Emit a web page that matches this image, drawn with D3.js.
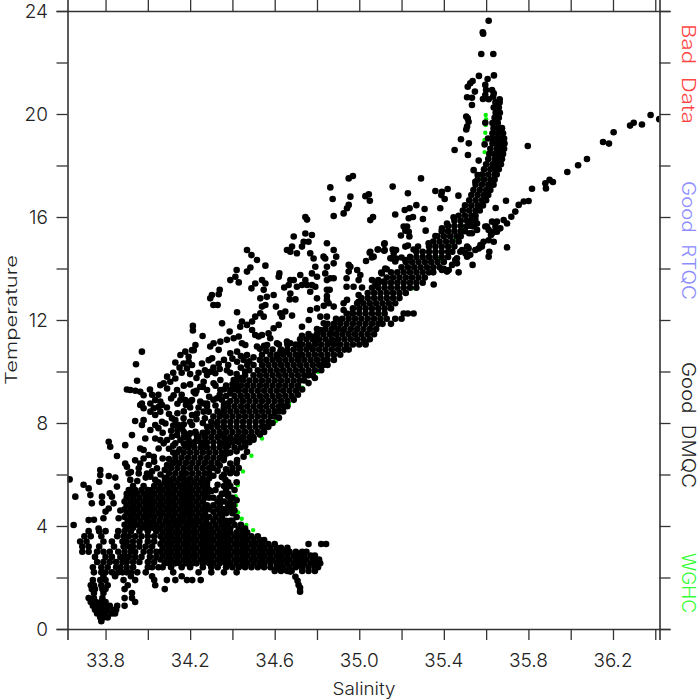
<!DOCTYPE html>
<html><head><meta charset="utf-8">
<script src="https://cdn.jsdelivr.net/npm/d3@7"></script>
<style>html,body{margin:0;background:#fff}svg{display:block}text{font-family:Inter,"Open Sans",sans-serif;font-weight:300;fill:#222}</style>
</head><body><svg id="c" width="700" height="700"></svg>
<script>
const salDomain=[33.62,36.42], tempDomain=[0,24];
const salTicks=[33.8,34,34.2,34.4,34.6,34.8,35,35.2,35.4,35.6,35.8,36,36.2,36.4];
const salLabels=[33.8,34.2,34.6,35.0,35.4,35.8,36.2];
const tempTicks=[0,2,4,6,8,10,12,14,16,18,20,22,24];
const tempLabels=[0,4,8,12,16,20,24];
const legend=["Bad  Data","Good  RTQC","Good  DMQC","WGHC"];
const legendColors=["#ff4444","#8c8cff","#222222","#33ff33"];

// WGHC climatology [salinity, temperature]
const wghc=[[34.635,3.13],[34.595,3.26],[34.55,3.46],[34.498,3.84],[34.466,4.04],[34.444,4.28],[34.427,4.53],[34.417,4.81],[34.415,5.16],[34.425,5.58],[34.45,6.12],[34.49,6.73],[34.54,7.4],[34.606,8.08],[34.668,8.75],[34.732,9.37],[34.805,9.99],[34.882,10.57],[35.115,12.23],[35.25,13.23],[35.305,13.64],[35.328,13.88],[35.38,14.37],[35.428,14.87],[35.454,15.13],[35.475,15.39],[35.494,15.62],[35.576,17.5],[35.593,18.52],[35.592,18.99],[35.596,19.27],[35.598,19.57],[35.6,19.8],[35.598,19.96]];

// Rows: [temperature, salinity, salinity, ...]
const coldRows=[
[0.3,33.78],[0.45,33.775,33.79,33.81],[0.6,33.76,33.78,33.8,33.83,33.845],[0.75,33.75,33.77,33.79,33.81,33.84,33.85],
[0.9,33.74,33.76,33.78,33.8,33.82,33.855,33.89],[1.05,33.73,33.755,33.78,33.8,33.94],[1.2,33.72,33.745,33.785,33.89,33.925],
[1.4,33.745,33.79,33.925],[1.55,33.735,33.75,33.785,33.8,33.89,34.08],[1.7,33.73,33.745,33.78,33.81,33.905,34.035],
[1.9,33.74,33.775,33.8,33.885,33.94,34.03,34.09,34.13,34.185,34.21,34.25],[2.05,33.79,33.845,33.92,34.02,34.16],
[2.2,33.745,33.78,33.8,33.83,33.86,33.88,33.9,33.92,33.95,33.99,34.12,34.24,34.3,34.36,34.42],
[2.4,33.74,33.78,33.81,33.85,33.87,33.9,33.93,34,34.02,34.05],
[2.6,33.76,33.79,33.82,33.85,33.88,33.9,33.93,33.96,34,34.03],
[2.8,33.75,33.8,33.83,33.87,33.89,33.91,33.94,33.97,34.01,34.04],
[3,33.69,33.72,33.76,33.79,33.82,33.86,33.89,33.92,33.94,33.98,34.01,34.04],
[3.2,33.69,33.72,33.77,33.84,33.885,33.91,33.93,33.96,33.99,34.02],
[3.4,33.68,33.71,33.79,33.83,33.88,33.9,33.93,33.96,34,34.03],
[3.6,33.7,33.73,33.78,33.855,33.885,33.91,33.94,33.97,34,34.03],
[3.8,33.72,33.77,33.8,33.86,33.89,33.92,33.96,34,34.04],
[3.93,33.9,33.93,33.97,33.99,34.02,34.05]];

const barRows=[
[2.25,34.6,34.63,34.66,34.68,34.73,34.76,34.79],
[2.4,34.07,34.11,34.16,34.2,34.26,34.3,34.33,34.37,34.4,34.43,34.46,34.49,34.52,34.55,34.58,34.61,34.64,34.67,34.7,34.73,34.76,34.79,34.805],
[2.55,34.08,34.1,34.13,34.15,34.18,34.21,34.23,34.26,34.29,34.31,34.34,34.37,34.39,34.42,34.45,34.47,34.5,34.53,34.55,34.58,34.61,34.63,34.66,34.69,34.71,34.74,34.77,34.79,34.815],
[2.7,34.06,34.09,34.11,34.14,34.17,34.19,34.22,34.25,34.27,34.3,34.33,34.35,34.38,34.41,34.43,34.46,34.49,34.51,34.54,34.57,34.59,34.62,34.65,34.67,34.7,34.73,34.75,34.78,34.81],
[2.85,34.07,34.1,34.13,34.15,34.18,34.21,34.23,34.26,34.29,34.31,34.34,34.37,34.39,34.42,34.45,34.47,34.5,34.53,34.55,34.58,34.61,34.63,34.66,34.69,34.71,34.74,34.77,34.79],
[3,34.06,34.09,34.11,34.14,34.17,34.19,34.22,34.25,34.27,34.3,34.33,34.35,34.38,34.41,34.43,34.46,34.49,34.51,34.54,34.57,34.59,34.62,34.65,34.67,34.7,34.73,34.75],
[3.15,34.07,34.1,34.13,34.15,34.18,34.21,34.23,34.26,34.29,34.31,34.34,34.37,34.39,34.42,34.45,34.47,34.5,34.53,34.55,34.58,34.61,34.63,34.66],
[3.3,34.06,34.09,34.11,34.14,34.17,34.19,34.22,34.25,34.27,34.3,34.33,34.35,34.38,34.41,34.43,34.46,34.49,34.51,34.54,34.57,34.6,34.76,34.82,34.843],
[3.45,34.07,34.1,34.13,34.15,34.18,34.21,34.23,34.26,34.29,34.31,34.34,34.37,34.39,34.42,34.45,34.47,34.5,34.53,34.55],
[3.6,34.06,34.09,34.11,34.14,34.17,34.19,34.22,34.25,34.27,34.3,34.33,34.35,34.38,34.41,34.43,34.46,34.49,34.52],
[3.75,34.07,34.1,34.13,34.15,34.18,34.21,34.23,34.26,34.29,34.31,34.34,34.37,34.39,34.42,34.45,34.47],
[3.9,34.06,34.09,34.11,34.14,34.17,34.19,34.22,34.25,34.27,34.3,34.33,34.36,34.39,34.43,34.46]];

const blobRows=[
[4.05,33.89,33.92,33.95,33.98,34.01,34.04,34.07,34.1,34.13,34.15,34.18,34.21,34.23,34.26,34.29,34.32,34.35,34.38,34.41,34.44],
[4.2,33.905,33.935,33.965,33.995,34.025,34.055,34.085,34.115,34.14,34.165,34.195,34.22,34.245,34.275,34.31,34.34,34.37,34.39],
[4.35,33.89,33.92,33.95,33.98,34,34.03,34.06,34.09,34.12,34.15,34.17,34.2,34.23,34.26,34.28,34.32,34.35,34.42],
[4.5,33.9,33.93,33.96,33.99,34.02,34.05,34.07,34.1,34.13,34.16,34.18,34.21,34.24,34.27,34.34,34.37,34.4],
[4.65,33.89,33.92,33.95,33.98,34,34.03,34.06,34.09,34.12,34.15,34.17,34.2,34.23,34.26,34.29,34.33,34.36,34.39],
[4.8,33.9,33.93,33.96,33.99,34.02,34.05,34.07,34.1,34.13,34.16,34.18,34.21,34.24,34.27,34.28,34.31,34.34,34.38,34.405],
[4.95,33.89,33.92,33.95,33.98,34,34.03,34.06,34.09,34.12,34.15,34.17,34.2,34.23,34.26,34.33,34.36,34.39],
[5.1,33.9,33.93,33.96,33.99,34.02,34.05,34.07,34.1,34.13,34.16,34.18,34.21,34.24,34.27,34.29,34.31,34.34,34.4],
[5.25,33.9,33.92,33.95,33.98,34,34.03,34.06,34.09,34.12,34.15,34.17,34.2,34.23,34.26,34.28,34.36,34.38],
[5.4,33.91,33.94,33.97,34,34.02,34.05,34.07,34.1,34.13,34.16,34.18,34.21,34.24,34.27,34.29,34.32,34.41],
[5.55,33.93,33.98,34.03,34.06,34.09,34.12,34.15,34.17,34.2,34.23,34.26,34.28,34.36,34.39]];

const coreRows=[
[5.7,34.05,34.08,34.11,34.14,34.17,34.19,34.22,34.25,34.28,34.38,34.42],
[5.85,34.09,34.12,34.15,34.17,34.2,34.23,34.26,34.29],
[6.05,34.1,34.13,34.16,34.18,34.21,34.24,34.27,34.29,34.39,34.42],
[6.25,34.11,34.14,34.17,34.2,34.23,34.26,34.29,34.31,34.4,34.43],
[6.45,34.12,34.15,34.18,34.21,34.24,34.27,34.3,34.33,34.42],
[6.65,34.13,34.16,34.19,34.22,34.25,34.28,34.31,34.34,34.36],
[6.85,34.14,34.17,34.2,34.23,34.26,34.29,34.32,34.35,34.37],
[7.05,34.19,34.22,34.25,34.28,34.31,34.34,34.37,34.44],
[7.25,34.22,34.25,34.28,34.31,34.34,34.4,34.43,34.46],
[7.45,34.24,34.27,34.3,34.33,34.36,34.39,34.42,34.45,34.48,34.5],
[7.65,34.28,34.31,34.34,34.37,34.4,34.43,34.46,34.49,34.52],
[7.85,34.3,34.33,34.36,34.39,34.42,34.45,34.48,34.51,34.54,34.56],
[8.05,34.3,34.33,34.36,34.39,34.42,34.45,34.48,34.51,34.54,34.57],
[8.25,34.31,34.34,34.37,34.4,34.43,34.46,34.49,34.52,34.55,34.58,34.6],
[8.45,34.33,34.36,34.39,34.42,34.45,34.48,34.51,34.54,34.57,34.6,34.62],
[8.65,34.38,34.41,34.44,34.47,34.5,34.53,34.56,34.59,34.62,34.645],
[8.85,34.39,34.42,34.45,34.48,34.51,34.54,34.57,34.6,34.63,34.66],
[9.05,34.41,34.44,34.47,34.5,34.53,34.56,34.59,34.62,34.65,34.68],
[9.25,34.43,34.46,34.49,34.52,34.55,34.58,34.61,34.64,34.67,34.7],
[9.45,34.44,34.47,34.5,34.53,34.56,34.59,34.62,34.65,34.68,34.71],
[9.65,34.45,34.48,34.51,34.54,34.57,34.6,34.63,34.66,34.69,34.72,34.74],
[9.85,34.46,34.5,34.53,34.56,34.59,34.62,34.65,34.68,34.71,34.74,34.76,34.78],
[10.05,34.48,34.52,34.55,34.58,34.61,34.64,34.67,34.7,34.73,34.76,34.79],
[10.25,34.5,34.54,34.57,34.6,34.63,34.66,34.69,34.72,34.75,34.78,34.81,34.83],
[10.45,34.53,34.56,34.59,34.62,34.65,34.68,34.71,34.74,34.77,34.8,34.83,34.85],
[10.65,34.58,34.61,34.64,34.67,34.7,34.73,34.76,34.79,34.82,34.85,34.88],
[10.85,34.59,34.63,34.66,34.69,34.72,34.75,34.78,34.81,34.84,34.87,34.9,34.93],
[11.05,34.62,34.66,34.7,34.73,34.76,34.79,34.82,34.85,34.88,34.91,34.94,34.97,35,35.03],
[11.25,34.72,34.75,34.78,34.81,34.84,34.87,34.9,34.93,34.96,34.99,35.02,35.05],
[11.45,34.76,34.8,34.83,34.86,34.89,34.92,34.95,34.98,35.01,35.04,35.07],
[11.65,34.8,34.84,34.87,34.9,34.93,34.96,34.99,35.02,35.05,35.08],
[11.85,34.85,34.88,34.91,34.94,34.97,35,35.03,35.06,35.09,35.11,35.15],
[12.05,34.89,34.92,34.95,34.98,35.01,35.04,35.07,35.1,35.13,35.17,35.2],
[12.25,34.94,34.97,35,35.03,35.06,35.09,35.12,35.21,35.23,35.257],
[12.45,34.97,35,35.03,35.06,35.09,35.12,35.15],
[12.65,34.99,35.02,35.05,35.08,35.11,35.14,35.17],
[12.85,35.01,35.04,35.07,35.1,35.13,35.16,35.19],
[13.05,35.04,35.07,35.1,35.13,35.16,35.19,35.22],
[13.25,35.06,35.09,35.12,35.15,35.18,35.21,35.24,35.27],
[13.45,35.09,35.12,35.15,35.18,35.21,35.24,35.27,35.3],
[13.65,35.13,35.16,35.19,35.22,35.25,35.28,35.31],
[13.85,35.15,35.18,35.21,35.24,35.27,35.3,35.33,35.35],
[14.05,35.2,35.23,35.26,35.29,35.32,35.35,35.38],
[14.25,35.22,35.25,35.28,35.31,35.34,35.37,35.4],
[14.45,35.24,35.27,35.3,35.33,35.36,35.39,35.42],
[14.65,35.27,35.3,35.33,35.36,35.39,35.42,35.44],
[14.85,35.33,35.36,35.39,35.42,35.45],[15.05,35.35,35.38,35.41,35.44,35.47],[15.25,35.37,35.4,35.43,35.46,35.48],
[15.45,35.39,35.42,35.45,35.48,35.5],[15.65,35.42,35.45,35.48,35.51,35.53],[15.85,35.45,35.48,35.51,35.53],
[16.05,35.47,35.5,35.53,35.55],[16.25,35.49,35.52,35.55,35.57],[16.45,35.5,35.53,35.56,35.585],[16.65,35.52,35.55,35.58,35.6],
[16.85,35.53,35.56,35.59,35.61],[17.05,35.54,35.57,35.6,35.62],[17.25,35.55,35.58,35.61,35.635],[17.45,35.56,35.59,35.62,35.64],
[17.65,35.58,35.61,35.64,35.65],[17.85,35.59,35.62,35.645,35.66],[18.05,35.6,35.63,35.65,35.67],[18.25,35.61,35.64,35.66,35.675],
[18.45,35.615,35.64,35.66,35.68],[18.65,35.62,35.65,35.67,35.685],[18.85,35.63,35.655,35.675,35.687],[19.05,35.63,35.65,35.67,35.685],
[19.25,35.63,35.655,35.68],[19.45,35.635,35.66,35.675],[19.65,35.63,35.655],[19.85,35.64,35.66],[20.05,35.645,35.665],[20.25,35.636,35.66],[20.45,35.644,35.664]];

// Lone readings outside the dense rows [salinity, temperature]
const leftScatter=[[33.649,4.04],[33.72,4.23],[33.745,4.24],[33.79,4.3],[33.8,4.56],[33.767,3.9],[33.815,4.68],[33.783,5.14],[33.783,4.9],[33.735,4.88],[33.728,5.2],[33.72,5.46],[33.696,5.6],[33.657,5.14],[33.63,5.81],[33.775,6.17],[33.775,5.98],[33.77,5.72],[33.815,5.94],[33.846,5.88],[33.854,5.53],[33.82,5.27],[33.83,5.14],[33.838,4.88],[33.862,4.3],[33.87,4.6],[33.854,6.72],[33.822,7.08],[33.815,7.27],[33.893,7.14],[33.925,7.53],[33.94,8.08],[33.972,7.92],[33.944,10.28],[33.949,9.64],[33.972,10.77]];
const sparseBody=[[33.901,9.3],[33.917,9.28],[33.941,9.25],[33.964,9.21],[33.98,9.08],[33.972,8.76],[33.98,8.57],[33.964,8.7],[34.012,8.76],[34.035,8.89],[34.059,8.83],[34.067,8.7],[34.028,8.57],[34.012,8.44],[34.059,8.44],[34.035,8.31],[34.091,9.8],[34.13,9.73],[34.106,9.6],[34.075,9.54],[34.059,9.47],[34.091,9.34],[34.138,9.28],[34.122,9.08],[34.154,8.89],[34.177,8.89],[34.217,9.21],[34.225,9.15],[34.209,8.89],[34.201,8.83],[34.154,10.64],[34.177,10.77],[34.193,10.57],[34.209,10.83],[34.225,11.03],[34.217,10.83],[34.193,10.38],[34.169,10.31],[34.185,10.12],[34.209,10.25],[34.256,10.31],[34.288,10.44],[34.304,10.51],[34.296,9.99],[34.319,9.93],[34.28,9.86],[34.343,9.67],[34.374,10.05],[34.406,9.67],[34.422,9.41],[34.343,9.28],[34.39,9.28],[34.311,9.54],[34.264,9.6],[34.248,9.41],[34.28,9.28],[34.327,8.96],[34.28,8.76],[34.264,8.76],[34.248,8.83],[34.288,8.44],[34.264,8.44],[34.233,8.37],[34.209,8.31],[34.169,8.18],[34.13,8.11],[34.114,8.18],[34.083,7.98],[34.067,8.05],[34.035,7.92],[33.98,8.11],[34.012,7.73],[34.035,7.4],[34.059,7.34],[34.075,7.21],[34.114,7.47],[34.138,7.53],[34.146,7.92],[34.162,7.79],[34.209,7.92],[34.225,7.66],[34.193,7.53],[34.193,7.34],[34.233,7.4],[34.264,7.21],[34.272,7.08],[34.177,7.08],[34.154,7.34],[34.13,7.21],[34.091,7.34],[34.091,6.37],[34.043,6.24],[34.004,6.37],[33.957,6.24],[33.893,6.43],[33.901,6.3],[33.909,6.04],[33.917,5.79],[33.964,6.43],[33.957,6.04],[33.996,6.04],[34.012,5.91],[34.035,5.79],[34.091,5.79],[33.98,6.95],[34.004,6.76],[34.028,6.69],[34.051,7.01],[33.964,7.01],[33.988,7.4],[34.359,8.57],[34.374,8.76],[34.343,8.37],[34.327,7.98],[34.359,7.86],[34.343,7.53],[34.374,7.34],[34.359,7.21],[34.374,6.82],[34.39,6.43],[34.359,6.56],[34.422,6.56],[34.453,6.69],[34.469,6.88],[34.398,6.11],[34.367,5.79],[34.42,9.7],[34.39,9.95],[34.335,10.3],[34.36,10.45]];
const bodyFill=[[33.95,5.75],[33.99,5.88],[34.02,6.12],[34.06,6],[34.08,5.87],[34.08,6.18],[34.1,6.35],[34.13,6.5],[34.1,6.6],[34.07,6.62],[34.03,6.5],[33.98,6.62],[33.94,6.55],[33.92,6.1],[34.12,6.85],[34.1,7],[34.12,7.12],[34.15,6.98],[34.17,7.2],[34.2,7.18],[34.23,7.3],[34.17,7.45],[34.2,7.6],[34.23,7.55],[34.26,7.62],[34.17,7.65],[34.14,7.72],[34.11,7.7],[34.07,7.62],[34.05,7.8],[34.28,7.85],[34.26,8],[34.23,8.15],[34.27,8.18],[34.2,8.05],[34.17,7.95],[34.12,7.9],[34.1,8.35],[34.14,8.38],[34.17,8.45],[34.2,8.6],[34.24,8.6],[34.28,8.65],[34.32,8.68],[34.36,8.7],[34.35,8.9],[34.31,8.9],[34.29,9.02],[34.34,9.1],[34.37,9.05],[34.39,9.15],[34.41,9.3],[34.37,9.45],[34.4,9.5],[34.42,9.6],[34.44,9.75],[34.42,9.9],[34.46,10],[34.44,10.15],[34.47,10.25],[34.48,10.4],[34.5,10.55],[34.54,10.65],[34.56,10.8],[34.55,11],[34.53,10.88],[34.44,10.6],[34.4,10.5],[34.38,10.25],[34.34,10.1],[34.31,10.15],[34.27,10.05],[34.24,9.95],[34.2,9.9],[34.16,9.95],[34.15,10.15],[34.13,10.35],[34.12,9.95],[34.23,9.75],[34.26,9.4],[34.17,9.45],[34.2,9.5],[34.23,9.25],[34.16,9.1],[34.14,8.75],[34.11,8.95],[34.09,8.6],[34.05,8.62],[34.05,9.1],[34.01,9.3],[34.02,9.1],[34.18,8.7],[34.36,9.3],[34.32,9.45],[34.39,6.85],[34.41,7.05],[34.38,7.12],[34.42,6.9],[34.46,7.1],[34.48,7.25],[34.41,7.3],[34.44,7.4],[34.5,7.35],[34.53,7.55],[34.55,7.65],[34.57,7.85],[34.59,8],[34.62,8.2],[34.64,8.45],[34.66,8.65],[34.69,8.9],[34.71,9.1],[34.73,9.3],[34.76,9.55],[34.79,9.75],[34.82,10.05],[34.85,10.25],[34.88,10.45],[34.91,10.65],[34.95,10.85],[34.41,4.6],[34.4,4.2],[34.35,4.55],[34.38,5.15],[34.37,5.4],[34.33,5.6],[34.35,5.25],[34.3,5.35],[34.31,4.55],[34.29,4.35],[34.42,5],[34.34,4.95],[34.31,5.95],[34.33,6.15],[34.35,5.9],[34.34,6.35],[34.37,6.2],[34.36,6]];
const midScatter=[[34.213,11.77],[34.213,11.59],[34.259,11.38],[34.351,11.87],[34.422,12.3],[34.387,11.55],[34.311,11.1],[34.343,11.16],[34.374,11.23],[34.406,11.29],[34.43,11.36],[34.295,10.97],[34.335,10.84],[34.39,10.71],[34.422,10.77],[34.445,11.1],[34.461,11.03],[34.437,11.74],[34.445,11.94],[34.469,11.81],[34.493,11.94],[34.508,12.13],[34.493,11.61],[34.508,11.42],[34.524,11.36],[34.54,11.42],[34.571,11.48],[34.595,11.68],[34.579,11.29],[34.619,11.81],[34.627,12.26],[34.65,12.33],[34.682,12.17],[34.635,12.13],[34.532,12.26],[34.548,12.13],[34.54,12.52],[34.453,10.45],[34.422,10.38],[34.469,10.64],[34.516,10.97],[34.564,11.03],[34.611,11.1],[34.658,11.16],[34.674,11.1],[34.713,11.03],[34.729,11.74],[34.729,11.39],[34.761,12],[34.768,12.39],[34.8,12.45],[34.832,12.55],[34.855,12.65],[34.879,12.52],[34.926,12.65],[34.942,12.78],[34.997,12.97],[34.997,12.71],[34.8,12.84],[34.847,12.78],[34.816,12.13],[34.847,12.13],[34.832,11.87],[34.816,11.61],[34.776,11.36],[34.863,11.48],[34.879,11.74],[34.926,12.39],[34.966,12.26],[34.91,12],[34.926,11.61],[34.895,11.1],[34.855,11.1],[34.8,11.23],[34.761,10.97],[34.721,10.64],[34.658,10.77],[34.627,10.77],[34.611,10.58],[35.029,11.12]];
const upperScatter=[[34.303,12.97],[34.295,12.84],[34.34,13.17],[34.335,13],[34.31,12.58],[34.33,12.58],[34.39,13.55],[34.42,13.94],[34.43,13.46],[34.414,13.68],[34.469,14.72],[34.49,14.52],[34.516,14.33],[34.556,14.11],[34.485,14.04],[34.469,13.88],[34.49,13.23],[34.508,13.42],[34.54,13.55],[34.556,13.42],[34.548,13.17],[34.563,12.9],[34.532,12.84],[34.595,12.97],[34.556,12.58],[34.606,12.52],[34.619,13.68],[34.622,13.81],[34.674,13.55],[34.69,13.55],[34.666,13.36],[34.645,13.26],[34.674,13.03],[34.671,12.8],[34.698,12.8],[34.721,13.75],[34.705,13.29],[34.729,13.36],[34.745,13.55],[34.753,13.36],[34.776,13.36],[34.792,13.29],[34.768,13.1],[34.847,13.17],[34.86,13.17],[34.847,12.93],[34.658,14.72],[34.682,14.85],[34.674,14.65],[34.705,14.59],[34.729,14.85],[34.737,15.04],[34.745,15.36],[34.776,15.3],[34.76,15.04],[34.69,15.24],[34.745,16],[34.753,15.9],[34.768,14.59],[34.784,14.39],[34.792,14.07],[34.776,13.81],[34.8,13.68],[34.847,14.98],[34.879,14.72],[34.891,14.46],[34.879,14.2],[34.847,14.07],[34.839,14.39],[34.831,14.46],[34.863,13.62],[34.879,13.62],[34.839,13.81],[34.847,13.55],[34.95,14.14],[34.958,14.07],[34.99,13.94],[35.005,13.75],[34.95,13.88],[34.94,13.62],[34.997,13.55],[34.94,13.29],[34.973,13.29],[34.863,17.15],[34.874,16.7],[34.879,16.04],[34.926,16.14],[34.942,16.34],[34.95,16.47],[34.958,16.79],[34.95,17.5],[34.97,17.59],[35.029,16.81],[35.045,16.88],[35.05,16.63],[35.052,15.88],[35.065,16],[35.12,14.98],[35.052,14.65],[35.06,14.43],[35.032,14.29],[35.087,14.74],[35.12,14.72],[35.147,14.4],[35.107,13.81],[35.13,13.97],[35.06,13.55],[35.09,13.55],[35.076,13.36],[35.115,13.49],[35.013,13.26],[35.158,17.18],[35.292,17.5],[35.23,16.92],[35.36,17.01],[35.391,16.98],[35.388,16.85],[35.404,16.7],[35.418,17.09],[35.469,16.83],[35.383,16.34],[35.17,16.1],[35.215,16.27],[35.238,16.34],[35.27,16.46],[35.309,16.31],[35.234,15.95],[35.254,16],[35.301,15.92],[35.21,15.63],[35.226,15.63],[35.234,15.43],[35.218,15.47],[35.197,15.28],[35.237,15.24],[35.314,15.47],[35.118,14.95],[35.118,14.69],[35.089,14.74],[35.049,14.61],[35.068,14.46],[35.158,14.74],[35.174,14.72],[35.163,14.59],[35.155,14.39],[35.17,14.27],[35.175,14.39],[35.2,14.43],[35.218,14.33],[35.218,14.85],[35.23,14.89],[35.278,14.85],[35.257,14.74],[35.123,14],[35.104,13.84],[35.328,14.98],[35.36,15.26],[35.391,15.56],[35.415,15.75],[35.446,15.99],[35.797,18.76]];
const warmBranch=[[35.565,18.19],[35.541,17.82],[35.56,17.63],[35.549,17.37],[35.514,18.41],[35.451,18.6],[35.518,18.86],[35.481,19.02],[35.593,18.82],[35.609,19.05],[35.506,19.4],[35.51,19.51],[35.517,19.7],[35.513,19.83],[35.506,19.9],[35.596,19.66],[35.533,20.35],[35.51,20.65],[35.533,20.63],[35.547,20.87],[35.585,20.58],[35.612,20.57],[35.596,20.74],[35.6,20.93],[35.596,21.13],[35.628,20.93],[35.636,20.8],[35.633,20.67],[35.664,20.57],[35.513,21.06],[35.525,21.19],[35.536,21.28],[35.566,21.48],[35.607,21.36],[35.637,21.5],[35.577,22.33],[35.634,22.33],[35.584,23.17],[35.586,23.12],[35.612,23.62]];
const lowerBranch=[[35.352,13.38],[35.47,13.85],[35.536,14.14],[35.391,13.94],[35.415,13.88],[35.439,14.14],[35.462,14.2],[35.462,14.4],[35.486,14.72],[35.51,14.85],[35.51,14.46],[35.549,14.72],[35.573,14.91],[35.588,15.04],[35.628,15.37],[35.636,15.04],[35.604,15.63],[35.628,15.82],[35.651,15.82],[35.683,15.88],[35.699,15.75],[35.667,15.56],[35.719,16.01],[35.738,16.21],[35.754,16.47],[35.778,16.6],[35.801,16.62],[35.694,16.63],[35.645,16.35],[35.699,14.82],[35.612,14.46],[35.615,14.65],[35.817,17.1],[35.88,17.31],[35.883,17.11],[35.9,17.44],[35.916,17.36],[35.984,17.75],[36.035,18.01],[36.077,18.25],[36.153,18.91],[36.181,18.85],[36.203,19.29],[36.281,19.55],[36.298,19.66],[36.337,19.59],[36.378,19.96],[36.419,19.8],[35.52,15.37],[35.557,15.5],[35.549,15.9],[35.541,15.63],[35.533,15.37],[35.557,15.75],[35.596,15.63],[35.612,15.5],[35.644,15.63],[35.636,15.43],[35.4,13.99],[35.423,13.94],[35.454,14.33],[35.478,14.65],[35.502,14.59],[35.517,14.78],[35.525,14.53],[35.58,14.85],[35.565,14.78],[35.612,15.1],[35.623,15.3],[35.651,15.43]];
const tail=[[34.64,2.3],[34.674,2.23],[34.698,2.03],[34.713,1.71],[34.72,1.45],[34.708,1.87],[34.72,1.6]];

const x=d3.scaleLinear().domain(salDomain).range([67.5,659.5]);
const y=d3.scaleLinear().domain(tempDomain).range([629,11]);
const svg=d3.select("#c");
const expand=rows=>rows.flatMap(r=>r.slice(1).map(s=>[s,r[0]]));
const black=[...expand(coldRows),...expand(barRows),...expand(blobRows),...expand(coreRows),...leftScatter,...sparseBody,...bodyFill,...midScatter,...upperScatter,...warmBranch,...lowerBranch,...tail];

svg.append("clipPath").attr("id","p").append("rect").attr("x",67.5).attr("y",11).attr("width",592).attr("height",618);
const g=svg.append("g").attr("clip-path","url(#p)");
g.selectAll("circle.w").data(wghc).join("circle").attr("class","w").attr("cx",d=>x(d[0])).attr("cy",d=>y(d[1])).attr("r",2.2).attr("fill","#00ee00");
g.selectAll("circle.b").data(black).join("circle").attr("class","b").attr("cx",d=>x(d[0])).attr("cy",d=>y(d[1])).attr("r",3.3).attr("fill","#000");

const axisCol="#333";
const style=s=>{s.select(".domain").attr("stroke",axisCol).attr("stroke-width",1.6);s.selectAll(".tick line").attr("stroke",axisCol).attr("stroke-width",1.3);s.selectAll(".tick text").remove();};
svg.append("g").attr("transform","translate(0,629)").call(d3.axisBottom(x).tickValues(salTicks).tickSizeOuter(0).tickSize(11)).call(style);
svg.append("g").attr("transform","translate(0,11)").call(d3.axisTop(x).tickValues(salTicks).tickSizeOuter(0).tickSize(11)).call(style);
svg.append("g").attr("transform","translate(67.5,0)").call(d3.axisLeft(y).tickValues(tempTicks).tickSizeOuter(0).tickSize(11)).call(style);
svg.append("g").attr("transform","translate(659.5,0)").call(d3.axisRight(y).tickValues(tempTicks).tickSizeOuter(0).tickSize(11)).call(style);

svg.selectAll("text.xl").data(salLabels).join("text").attr("class","xl").attr("x",d=>x(d)).attr("y",667).attr("text-anchor","middle").attr("font-size",19).attr("textLength",39).attr("lengthAdjust","spacingAndGlyphs").text(d=>d.toFixed(1));
svg.selectAll("text.yl").data(tempLabels).join("text").attr("class","yl").attr("x",48).attr("y",d=>y(d)+7).attr("text-anchor","end").attr("font-size",19).text(d=>d);
svg.append("text").attr("x",364).attr("y",695).attr("text-anchor","middle").attr("font-size",17).attr("textLength",63).attr("lengthAdjust","spacingAndGlyphs").text("Salinity");
svg.append("text").attr("transform","translate(16.5,320) rotate(-90)").attr("text-anchor","middle").attr("font-size",16.5).attr("textLength",130).attr("lengthAdjust","spacingAndGlyphs").text("Temperature");

const legendY=[24,181,362,553], legendLen=[100,119,126,60];
legend.forEach((t,i)=>svg.append("text").attr("transform",`translate(682,${legendY[i]}) rotate(90)`).attr("font-size",18).attr("textLength",legendLen[i]).attr("lengthAdjust","spacingAndGlyphs").style("white-space","pre").style("fill",legendColors[i]).text(t));
</script></body></html>
